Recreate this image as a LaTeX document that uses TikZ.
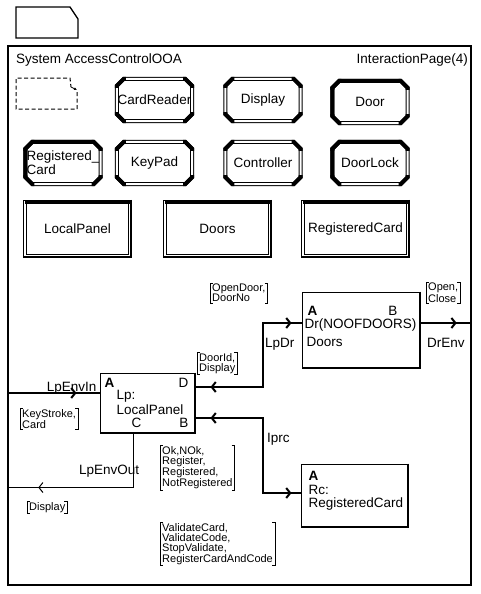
\documentclass[tikz,border=0pt]{standalone}
\usepackage{fontspec}
\setmainfont{Liberation Sans}
\usetikzlibrary{arrows.meta, calc, decorations.markings, positioning}

%% Octagonal outline of a block type, with its filled corners
\newcommand{\contourOct}[1]{%
  \draw[contourDouble] ($(#1.north west)+(7,0)$) -- ($(#1.north east)+(-7,0)$) --
    ($(#1.north east)+(0,7)$) -- ($(#1.south east)+(0,-7)$) --
    ($(#1.south east)+(-7,0)$) -- ($(#1.south west)+(7,0)$) --
    ($(#1.south west)+(0,-7)$) -- ($(#1.north west)+(0,7)$) -- cycle;
  \draw[coinPlein] ($(#1.north west)+(0,9)$) -- ($(#1.north west)+(0,7)$) --
    ($(#1.north west)+(7,0)$) -- ($(#1.north west)+(9,0)$);
  \draw[coinPlein] ($(#1.north east)+(-9,0)$) -- ($(#1.north east)+(-7,0)$) --
    ($(#1.north east)+(0,7)$) -- ($(#1.north east)+(0,9)$);
  \draw[coinPlein] ($(#1.south east)+(0,-9)$) -- ($(#1.south east)+(0,-7)$) --
    ($(#1.south east)+(-7,0)$) -- ($(#1.south east)+(-9,0)$);
  \draw[coinPlein] ($(#1.south west)+(9,0)$) -- ($(#1.south west)+(7,0)$) --
    ($(#1.south west)+(0,-7)$) -- ($(#1.south west)+(0,-9)$);}
%% Heavy left and top edges
\newcommand{\bordLourd}[1]{%
  \draw[bordEpais] ($(#1.south west)+(0,-7)$) -- ($(#1.north west)+(0,7)$) --
    ($(#1.north west)+(7,0)$) -- ($(#1.north east)+(-7,0)$);}
%% Rectangle of a block set: double line, heavy top, shadow right and bottom
\newcommand{\contourEnsemble}[1]{%
  \draw[contourDouble] (#1.north west) rectangle (#1.south east);
  \draw[bordEpais] (#1.north west) -- (#1.north east);
  \draw[ombre] ([shift={(1,-2)}]#1.north east) -- ([shift={(1,1)}]#1.south east) --
    ([shift={(-2,1)}]#1.south west);}
%% Signal list brackets
\newcommand{\crochets}[1]{%
  \draw[crochet] ([shift={(3,0)}]#1.north west) -- (#1.north west) --
    (#1.south west) -- ([shift={(3,0)}]#1.south west);
  \draw[crochet] ([shift={(-3,0)}]#1.north east) -- (#1.north east) --
    (#1.south east) -- ([shift={(-3,0)}]#1.south east);}
\newcommand{\policeBase}{\fontsize{13.5}{14}\selectfont}

\tikzset{
  %% ── Frame ────────────────────────────────────────────────────────────
  cadre/.style        = {draw, line width=1.4pt, inner sep=0pt},
  titre/.style        = {inner sep=0pt},
  pageTrait/.style    = {line width=1.3pt, line join=miter},
  pagePointillee/.style = {line width=1pt, dash pattern=on 4pt off 2.5pt},
  %%
  %% ── Blocks ───────────────────────────────────────────────────────────
  blocType/.style     = {minimum width=75pt, minimum height=42pt, inner sep=0pt,
                         align=center},
  blocEnsemble/.style = {minimum width=105pt, minimum height=54pt, inner sep=0pt},
  contourDouble/.style = {double, double distance=2pt, line width=1pt},
  coinPlein/.style    = {line width=4pt, line join=miter},
  bordEpais/.style    = {line width=4pt, line join=miter},
  ombre/.style        = {line width=2pt},
  processus/.style    = {draw, line width=1pt, inner sep=0pt},
  porte/.style        = {inner sep=0pt},
  porteGras/.style    = {porte, font=\policeBase\bfseries},
  %%
  %% ── Channels ─────────────────────────────────────────────────────────
  canal/.style        = {line width=2pt},
  canalFin/.style     = {line width=1pt},
  flecheAvant/.style  = {postaction={decorate, decoration={markings,
                         mark=at position #1 with
                         {\arrow{Straight Barb[length=4pt, width=10pt]}}}}},
  flecheArriere/.style = {postaction={decorate, decoration={markings,
                         mark=at position #1 with
                         {\arrowreversed{Straight Barb[length=4pt, width=10pt]}}}}},
  %%
  %% ── Text ─────────────────────────────────────────────────────────────
  etiquette/.style    = {inner sep=0pt},
  signaux/.style      = {font=\fontsize{11}{10}\selectfont, align=left,
                         inner xsep=2pt, inner ysep=1pt, anchor=north west},
  crochet/.style      = {line width=1pt},
}

\begin{document}
\begin{tikzpicture}[x=1pt, y=-1pt, font=\policeBase]
\useasboundingbox (0,0) rectangle (480,594);

\draw[pageTrait] (16,7) -- (70,7) -- (78,19) -- (78,38) -- (16,38) -- cycle;

\node[cadre, minimum width=463pt, minimum height=539pt] (systeme) at (239.5,315.5) {};
\node[titre, anchor=west] (sysNom) at (16,60) {System AccessControlOOA};
\node[titre, anchor=east] (pageNom) at (468,60) {InteractionPage(4)};

\draw[pagePointillee] (77,92) -- (77,109) -- (16,109) -- (16,78) -- (70,78) -- (71,87);
\draw[line width=0.8pt, -{Latex[length=3pt, width=3pt]}] (71,87) -- (77,90);

\node[blocType] (cardReader) at (154.5,100) {CardReader};
\node[blocType] (display)    at (263,100)   {Display};
\node[blocType] (door)       at (370,102)   {Door};
\node[blocType, align=left] (regCard) at (63,163) {Registered\_\\Card};
\node[blocType] (keyPad)     at (154.5,163) {KeyPad};
\node[blocType] (controller) at (263,163)   {Controller};
\node[blocType] (doorLock)   at (370,163)   {DoorLock};

\foreach \blocNom in {cardReader, display, door, regCard, keyPad, controller, doorLock}
  {\contourOct{\blocNom}}
\foreach \blocNom in {door, regCard, doorLock}
  {\bordLourd{\blocNom}}

\node[blocEnsemble] (ensLocalPanel) at (77.5,229)  {LocalPanel};
\node[blocEnsemble] (ensDoors)      at (217.5,229) {Doors};
\node[blocEnsemble] (ensRegCard)    at (355.5,229) {RegisteredCard};
\foreach \blocNom in {ensLocalPanel, ensDoors, ensRegCard}
  {\contourEnsemble{\blocNom}}

\node[processus, minimum width=94pt, minimum height=59pt] (lp) at (147,402.5) {};
\draw[ombre] (lp.north east) -- (lp.south east) -- (lp.south west);
\node[porteGras, anchor=west] (lpA) at ([shift={(5,10)}]lp.north west) {A};
\node[porte, anchor=east] (lpD) at ([shift={(-6,10)}]lp.north east) {D};
\node[porte, anchor=west] (lpNom) at ([shift={(17,24)}]lp.north west) {Lp:};
\node[porte, anchor=west] (lpType) at ([shift={(17,37)}]lp.north west) {LocalPanel};
\node[porte] (lpC) at ([shift={(37,50)}]lp.north west) {C};
\node[porte, anchor=east] (lpB) at ([shift={(-6,50)}]lp.north east) {B};

\node[processus, minimum width=117pt, minimum height=75pt] (dr) at (360.5,329.5) {};
\draw[ombre] (dr.north east) -- (dr.south east) -- (dr.south west);
\node[porteGras, anchor=west] (drA) at ([shift={(6,19)}]dr.north west) {A};
\node[porte, anchor=east] (drB) at ([shift={(-22,19)}]dr.north east) {B};
\node[porte, anchor=west] (drNom) at ([shift={(3,34)}]dr.north west) {Dr(NOOFDOORS)};
\node[porte, anchor=west] (drType) at ([shift={(5,50)}]dr.north west) {Doors};

\node[processus, minimum width=106pt, minimum height=62pt] (rc) at (354,495) {};
\draw[ombre] (rc.north east) -- (rc.south east) -- (rc.south west);
\node[porteGras, anchor=west] (rcA) at ([shift={(8,12)}]rc.north west) {A};
\node[porte, anchor=west] (rcNom) at ([shift={(8,26)}]rc.north west) {Rc:};
\node[porte, anchor=west] (rcType) at ([shift={(8,41)}]rc.north west) {RegisteredCard};

\coordinate (lpPorteA) at ([shift={(0,-9.5)}]lp.west);
\coordinate (lpPorteD) at ([shift={(0,-15.5)}]lp.east);
\coordinate (lpPorteB) at ([shift={(0,15.5)}]lp.east);
\coordinate (lpPorteC) at ([shift={(-14,0)}]lp.south);
\coordinate (lpSortie) at ([shift={(0,55)}]lpPorteC);
\coordinate (drPorteA) at ([shift={(0,-6.5)}]dr.west);
\coordinate (drPorteB) at ([shift={(0,-6.5)}]dr.east);
\coordinate (rcPorteA) at ([shift={(0,-2)}]rc.west);
\coordinate (coudeLp) at (263,0);

\draw[canal, flecheAvant=-23pt] (systeme.west |- lpPorteA) -- (lpPorteA);
\draw[canal, flecheArriere=16pt, flecheAvant=-10pt]
  (lpPorteD) -| (coudeLp |- drPorteA) -- (drPorteA);
\draw[canal, flecheArriere=16pt, flecheAvant=-9pt]
  (lpPorteB) -| (coudeLp |- rcPorteA) -- (rcPorteA);
\draw[canal, flecheAvant=-15pt] (drPorteB) -- (drPorteB -| systeme.east);
\draw[canalFin, flecheAvant=-31pt] (lpPorteC) -- (lpSortie) -- (lpSortie -| systeme.west);

\node[etiquette, anchor=base east] (lblLpEnvIn) at ([shift={(-3,-2)}]lpPorteA) {LpEnvIn};
\node[etiquette, anchor=base west] (lblLpDr) at (265,347) {LpDr};
\node[etiquette, anchor=base west] (lblIprc) at (267,442) {Iprc};
\node[etiquette, anchor=base west] (lblDrEnv) at (427,347) {DrEnv};
\node[etiquette, anchor=base west] (lblLpEnvOut) at (79,474) {LpEnvOut};

\node[signaux] (sigOpenDoor)  at (210,283) {OpenDoor,\\DoorNo};
\node[signaux] (sigOpenClose) at (426,282) {Open,\\Close};
\node[signaux] (sigDoorId)    at (197,352) {DoorId,\\Display};
\node[signaux] (sigKeyStroke) at (20,408)  {KeyStroke,\\Card};
\node[signaux] (sigOk)        at (160,445) {Ok,NOk,\\Register,\\Registered,\\NotRegistered};
\node[signaux] (sigDisplay)   at (27,501)  {Display};
\node[signaux] (sigValidate)  at (160,522) {ValidateCard,\\ValidateCode,\\StopValidate,\\RegisterCardAndCode};
\foreach \sigNom in {sigOpenDoor, sigOpenClose, sigDoorId, sigKeyStroke, sigOk, sigDisplay, sigValidate}
  {\crochets{\sigNom}}

\end{tikzpicture}
\end{document}
